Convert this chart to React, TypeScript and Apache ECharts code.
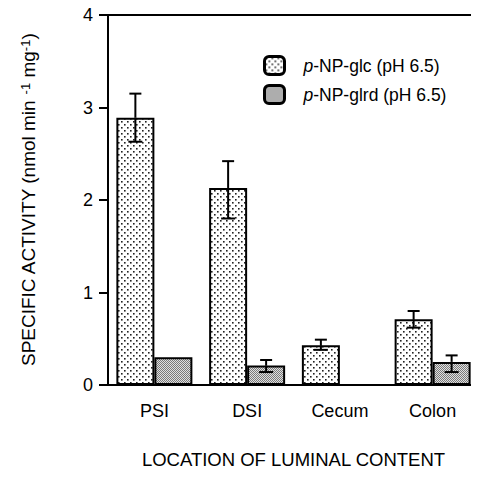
import React, { useEffect, useRef } from "react";
import * as echarts from "echarts";

const categories = ["PSI", "DSI", "Cecum", "Colon"];
const seriesNames = ["p-NP-glc (pH 6.5)", "p-NP-glrd (pH 6.5)"];
const glcValues = [2.89, 2.13, 0.43, 0.71];
const glcHigh = [3.15, 2.42, 0.49, 0.8];
const glcLow = [2.63, 1.8, 0.38, 0.62];
const glrdValues: (number | null)[] = [0.3, 0.21, null, 0.25];
const glrdHigh: (number | null)[] = [null, 0.27, null, 0.32];
const glrdLow: (number | null)[] = [null, 0.14, null, 0.14];
const yTicks = [0, 1, 2, 3, 4];

const FONT = "'Liberation Sans', Arial, Helvetica, sans-serif";

function makeDotPattern() {
  const c = document.createElement("canvas");
  c.width = 6;
  c.height = 6;
  const ctx = c.getContext("2d")!;
  ctx.fillStyle = "#ffffff";
  ctx.fillRect(0, 0, 6, 6);
  ctx.fillStyle = "#222222";
  ctx.fillRect(1, 1, 1.6, 1.6);
  ctx.fillRect(4, 4, 1.6, 1.6);
  return c;
}

function makeGrayPattern() {
  const c = document.createElement("canvas");
  c.width = 2;
  c.height = 2;
  const ctx = c.getContext("2d")!;
  ctx.fillStyle = "#e0e0e0";
  ctx.fillRect(0, 0, 2, 2);
  ctx.fillStyle = "#7a7a7a";
  ctx.fillRect(0, 0, 1, 1);
  ctx.fillRect(1, 1, 1, 1);
  return c;
}

export default function App() {
  const ref = useRef<HTMLDivElement>(null);
  useEffect(() => {
    if (!ref.current) return;
    const chart = echarts.init(ref.current, null, { renderer: "svg" });
    const dot = makeDotPattern();
    const gray = makeGrayPattern();
    const BAR_W = 38;

    const errData = (high: (number | null)[], low: (number | null)[], vals: (number | null)[]) =>
      categories
        .map((_, i) => [i, high[i], low[i], vals[i]])
        .filter((d) => d[1] != null && d[3] != null);

    const makeErr = (name: string, data: any[], offset: number) => ({
      type: "custom",
      name,
      data,
      z: 10,
      silent: true,
      renderItem: (params: any, api: any) => {
        const i = api.value(0);
        const hi = api.value(1);
        const lo = api.value(2);
        const mean = api.value(3);
        const pHi = api.coord([i, hi]);
        const pLo = api.coord([i, lo]);
        const pM = api.coord([i, mean]);
        const x = pM[0] + offset;
        const style = { stroke: "#000", lineWidth: 2 };
        const capU = 6;
        const capL = 7;
        return {
          type: "group",
          children: [
            { type: "line", shape: { x1: x, y1: pM[1], x2: x, y2: pHi[1] }, style },
            { type: "line", shape: { x1: x - capU, y1: pHi[1], x2: x + capU, y2: pHi[1] }, style },
            { type: "line", shape: { x1: x, y1: pM[1], x2: x, y2: pLo[1] }, style },
            { type: "line", shape: { x1: x - capL, y1: pLo[1], x2: x + capL, y2: pLo[1] }, style },
          ],
        };
      },
    });

    const option: any = {
      animation: false,
      textStyle: { fontFamily: FONT, color: "#000" },
      grid: { left: 108, top: 15, width: 376, height: 370 },
      legend: {
        data: seriesNames,
        orient: "vertical",
        left: 258,
        top: 50,
        itemWidth: 20,
        itemHeight: 18,
        itemGap: 8,
        itemStyle: { borderWidth: 3, borderColor: "#000" },
        formatter: (n: string) => "{i|p}{t|" + n.slice(1) + "}",
        textStyle: {
          fontSize: 17,
          color: "#000",
          padding: [0, 0, 0, 14],
          rich: {
            i: { fontStyle: "italic", fontSize: 17.5, fontFamily: FONT, color: "#000" },
            t: { fontSize: 17.5, fontFamily: FONT, color: "#000" },
          },
        },
      },
      xAxis: [
        {
          type: "category",
          data: categories,
          boundaryGap: true,
          axisLine: { lineStyle: { color: "#000", width: 2 } },
          axisTick: { alignWithLabel: true, length: 8, lineStyle: { color: "#000", width: 2 } },
          axisLabel: { fontSize: 18, color: "#000", margin: 17, fontFamily: FONT },
          name: "LOCATION OF LUMINAL CONTENT",
          nameLocation: "middle",
          nameGap: 65,
          nameTextStyle: { fontSize: 18.5, color: "#000", fontFamily: FONT },
        },
        {
          type: "category",
          position: "top",
          data: categories,
          axisLine: { show: true, lineStyle: { color: "#000", width: 2 } },
          axisTick: { show: false },
          axisLabel: { show: false },
        },
      ],
      yAxis: {
        type: "value",
        min: 0,
        max: 4,
        interval: 1,
        axisLine: { show: true, lineStyle: { color: "#000", width: 2 } },
        axisTick: { show: true, length: 9, lineStyle: { color: "#000", width: 2 } },
        splitLine: { show: false },
        axisLabel: {
          fontSize: 18,
          color: "#000",
          margin: 15,
          fontFamily: FONT,
          formatter: (v: number) => (yTicks.includes(v) ? String(v) : ""),
        },
        name: "SPECIFIC ACTIVITY (nmol min {s|-1} mg{s|-1})",
        nameLocation: "middle",
        nameGap: 70,
        nameTextStyle: {
          fontSize: 19,
          color: "#000",
          fontFamily: FONT,
          rich: {
            s: { fontSize: 13, verticalAlign: "top", fontFamily: FONT, color: "#000" },
          },
        },
      },
      series: [
        {
          type: "bar",
          name: seriesNames[0],
          data: glcValues,
          barWidth: BAR_W,
          barGap: "0%",
          itemStyle: {
            color: { image: dot, repeat: "repeat" },
            borderColor: "#000",
            borderWidth: 2,
          },
        },
        {
          type: "bar",
          name: seriesNames[1],
          data: glrdValues,
          barWidth: BAR_W,
          barGap: "0%",
          itemStyle: {
            color: { image: gray, repeat: "repeat" },
            borderColor: "#000",
            borderWidth: 2,
          },
        },
        makeErr("glcErr", errData(glcHigh, glcLow, glcValues), -BAR_W / 2),
        makeErr("glrdErr", errData(glrdHigh, glrdLow, glrdValues), BAR_W / 2),
      ],
    };
    chart.setOption(option);
    return () => chart.dispose();
  }, []);
  return <div ref={ref} style={{ width: 479, height: 491, margin: -8 }} />;
}
